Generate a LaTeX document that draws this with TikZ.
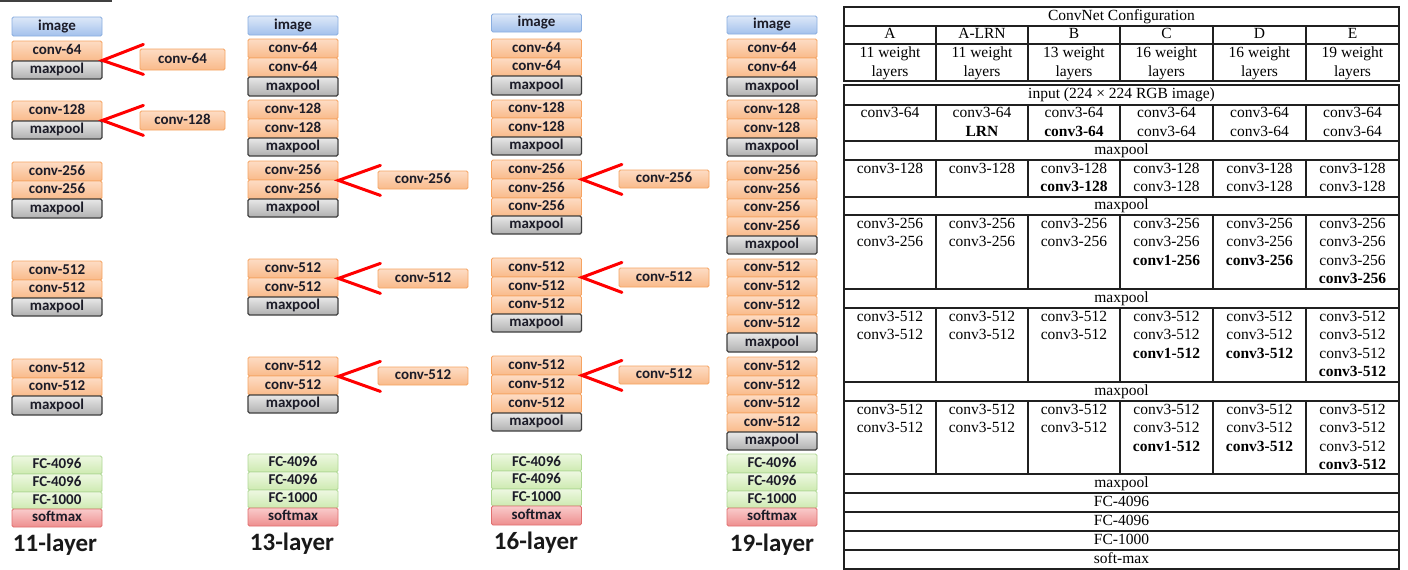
\documentclass[tikz,border=0pt]{standalone}
\usepackage{fontspec}
\newfontfamily\cfont{Carlito}
\newfontfamily\tfont{Liberation Serif}
\definecolor{imgT}{HTML}{DDE8F8}
\definecolor{imgBot}{HTML}{A3C1EC}
\definecolor{imgB}{HTML}{8AAEE0}
\definecolor{convT}{HTML}{FDDCC4}
\definecolor{convBot}{HTML}{F9BA8A}
\definecolor{convB}{HTML}{F6A462}
\definecolor{poolT}{HTML}{E8E8E8}
\definecolor{poolBot}{HTML}{B0B0B0}
\definecolor{poolB}{HTML}{404040}
\definecolor{fcT}{HTML}{EEF8E2}
\definecolor{fcBot}{HTML}{CDEAB0}
\definecolor{fcB}{HTML}{B0D896}
\definecolor{smT}{HTML}{F9CBCB}
\definecolor{smBot}{HTML}{EE8E8E}
\definecolor{smB}{HTML}{E06F6F}
\definecolor{txt}{HTML}{1C1C28}
\definecolor{tcol}{HTML}{202020}
\tikzset{
  lay/.style={draw, rounded corners=1.5pt, minimum width=90pt, inner sep=0pt,
    font=\cfont\bfseries\fontsize{15}{16}\selectfont, text=txt,
    text height=10pt, text depth=3pt},
  imgbox/.style={lay, draw=imgB, line width=0.8pt, top color=imgT, bottom color=imgBot},
  convbox/.style={lay, draw=convB, line width=0.8pt, top color=convT, bottom color=convBot},
  poolbox/.style={lay, draw=poolB, line width=1.3pt, top color=poolT, bottom color=poolBot},
  fcbox/.style={lay, draw=fcB, line width=0.8pt, top color=fcT, bottom color=fcBot},
  smbox/.style={lay, draw=smB, line width=0.8pt, top color=smT, bottom color=smBot},
  redv/.style={draw=red, line width=3pt, line cap=round, line join=miter},
  lbl/.style={font=\cfont\bfseries\fontsize{25}{28}\selectfont, text=black!90, inner sep=0pt},
  tl/.style={draw=tcol, line width=1.2pt},
  tbox/.style={draw=tcol, line width=1.6pt},
  cellt/.style={anchor=north, align=center, inner sep=0pt,
    font=\tfont\fontsize{15.5}{18.3}\selectfont},
  spant/.style={anchor=center, inner sep=0pt, text height=11pt, text depth=3.5pt,
    font=\tfont\fontsize{15.5}{18.3}\selectfont}
}
\newcommand\lay[6]{\node[#2, minimum height={#5-#4}] (#1) at (#3,{(#4+#5)/2}) {#6};}
\newcommand\trow[8]{%
  \node[cellt] (#1A) at (890,#2) {#3};
  \node[cellt] (#1L) at (982,#2) {#4};
  \node[cellt] (#1B) at (1074,#2) {#5};
  \node[cellt] (#1C) at (1166.5,#2) {#6};
  \node[cellt] (#1D) at (1259.5,#2) {#7};
  \node[cellt] (#1E) at (1352.5,#2) {#8};}
\newcommand\tspan[3]{\node[spant] (#1) at (1121.5,#2) {#3};}
\begin{document}
\begin{tikzpicture}[x=1pt,y=-1pt]
\useasboundingbox (0,0) rectangle (1408,570);
\fill[white] (0,0) rectangle (1408,570);
\draw[line width=1.5pt, black!75] (0,1) -- (112,1);

% ---------- 11-layer ----------
\lay{c1img}{imgbox}{57}{17}{36}{image}
\lay{c1a1}{convbox}{57}{41}{61}{conv-64}
\lay{c1p1}{poolbox}{57}{61}{79}{maxpool}
\lay{c1b1}{convbox}{57}{101}{121}{conv-128}
\lay{c1p2}{poolbox}{57}{121}{139}{maxpool}
\lay{c1c1}{convbox}{57}{162}{181}{conv-256}
\lay{c1c2}{convbox}{57}{181}{199}{conv-256}
\lay{c1p3}{poolbox}{57}{199}{218}{maxpool}
\lay{c1d1}{convbox}{57}{261}{280}{conv-512}
\lay{c1d2}{convbox}{57}{280}{298}{conv-512}
\lay{c1p4}{poolbox}{57}{298}{316}{maxpool}
\lay{c1e1}{convbox}{57}{359}{378}{conv-512}
\lay{c1e2}{convbox}{57}{378}{396}{conv-512}
\lay{c1p5}{poolbox}{57}{396}{415}{maxpool}
\lay{c1f1}{fcbox}{57}{456}{474}{FC-4096}
\lay{c1f2}{fcbox}{57}{474}{492}{FC-4096}
\lay{c1f3}{fcbox}{57}{492}{509}{FC-1000}
\lay{c1sm}{smbox}{57}{509}{527}{softmax}
\node[lbl] (l11) at (55,545) {11-layer};

\lay{x1a}{convbox, minimum width=85pt}{182.5}{49}{70}{conv-64}
\lay{x1b}{convbox, minimum width=85pt}{182.5}{111}{130}{conv-128}
\coordinate (v1a) at ([shift={(0,-1)}]c1a1.south east);
\coordinate (u1a) at ([shift={(41,-16)}]v1a);
\coordinate (d1a) at ([shift={(41,14)}]v1a);
\draw[redv] (u1a) -- (v1a) -- (d1a);
\coordinate (v1b) at ([shift={(0,-1)}]c1b1.south east);
\coordinate (u1b) at ([shift={(41,-15)}]v1b);
\coordinate (d1b) at ([shift={(41,15)}]v1b);
\draw[redv] (u1b) -- (v1b) -- (d1b);

% ---------- 13-layer ----------
\lay{c2img}{imgbox}{293}{16}{35}{image}
\lay{c2a1}{convbox}{293}{39}{58}{conv-64}
\lay{c2a2}{convbox}{293}{58}{77}{conv-64}
\lay{c2p1}{poolbox}{293}{77}{96}{maxpool}
\lay{c2b1}{convbox}{293}{100}{119}{conv-128}
\lay{c2b2}{convbox}{293}{119}{138}{conv-128}
\lay{c2p2}{poolbox}{293}{138}{156}{maxpool}
\lay{c2c1}{convbox}{293}{161}{180}{conv-256}
\lay{c2c2}{convbox}{293}{180}{199}{conv-256}
\lay{c2p3}{poolbox}{293}{199}{217}{maxpool}
\lay{c2d1}{convbox}{293}{259}{278}{conv-512}
\lay{c2d2}{convbox}{293}{278}{297}{conv-512}
\lay{c2p4}{poolbox}{293}{297}{315}{maxpool}
\lay{c2e1}{convbox}{293}{357}{376}{conv-512}
\lay{c2e2}{convbox}{293}{376}{395}{conv-512}
\lay{c2p5}{poolbox}{293}{395}{413}{maxpool}
\lay{c2f1}{fcbox}{293}{454}{472}{FC-4096}
\lay{c2f2}{fcbox}{293}{472}{490}{FC-4096}
\lay{c2f3}{fcbox}{293}{490}{508}{FC-1000}
\lay{c2sm}{smbox}{293}{508}{526}{softmax}
\node[lbl] (l13) at (292,544) {13-layer};

\lay{x2c}{convbox}{423}{171}{189}{conv-256}
\lay{x2d}{convbox}{423}{269}{288}{conv-512}
\lay{x2e}{convbox}{423}{367}{385}{conv-512}
\foreach \s in {c,d,e}{
  \coordinate (v2\s) at (c2\s1.south east);
  \coordinate (u2\s) at ([shift={(42,-15)}]v2\s);
  \coordinate (d2\s) at ([shift={(42,15)}]v2\s);
  \draw[redv] (u2\s) -- (v2\s) -- (d2\s);
}

% ---------- 16-layer ----------
\lay{c3img}{imgbox}{536.5}{14}{32}{image}
\lay{c3a1}{convbox}{536.5}{39}{58}{conv-64}
\lay{c3a2}{convbox}{536.5}{58}{76}{conv-64}
\lay{c3p1}{poolbox}{536.5}{76}{95}{maxpool}
\lay{c3b1}{convbox}{536.5}{100}{118}{conv-128}
\lay{c3b2}{convbox}{536.5}{118}{137}{conv-128}
\lay{c3p2}{poolbox}{536.5}{137}{155}{maxpool}
\lay{c3c1}{convbox}{536.5}{160}{179}{conv-256}
\lay{c3c2}{convbox}{536.5}{179}{198}{conv-256}
\lay{c3c3}{convbox}{536.5}{198}{216}{conv-256}
\lay{c3p3}{poolbox}{536.5}{216}{234}{maxpool}
\lay{c3d1}{convbox}{536.5}{258}{277}{conv-512}
\lay{c3d2}{convbox}{536.5}{277}{296}{conv-512}
\lay{c3d3}{convbox}{536.5}{296}{314}{conv-512}
\lay{c3p4}{poolbox}{536.5}{314}{332}{maxpool}
\lay{c3e1}{convbox}{536.5}{356}{375}{conv-512}
\lay{c3e2}{convbox}{536.5}{375}{394}{conv-512}
\lay{c3e3}{convbox}{536.5}{394}{413}{conv-512}
\lay{c3p5}{poolbox}{536.5}{413}{431}{maxpool}
\lay{c3f1}{fcbox}{536.5}{454}{471}{FC-4096}
\lay{c3f2}{fcbox}{536.5}{471}{489}{FC-4096}
\lay{c3f3}{fcbox}{536.5}{489}{506}{FC-1000}
\lay{c3sm}{smbox}{536.5}{506}{525}{softmax}
\node[lbl] (l16) at (536,543) {16-layer};

\lay{x3c}{convbox}{664}{170}{188}{conv-256}
\lay{x3d}{convbox}{664}{268}{287}{conv-512}
\lay{x3e}{convbox}{664}{366}{384}{conv-512}
\foreach \s in {c,d,e}{
  \coordinate (v3\s) at (c3\s1.south east);
  \coordinate (u3\s) at ([shift={(40,-15)}]v3\s);
  \coordinate (d3\s) at ([shift={(40,15)}]v3\s);
  \draw[redv] (u3\s) -- (v3\s) -- (d3\s);
}

% ---------- 19-layer ----------
\lay{c4img}{imgbox}{772}{16}{34}{image}
\lay{c4a1}{convbox}{772}{39}{58}{conv-64}
\lay{c4a2}{convbox}{772}{58}{77}{conv-64}
\lay{c4p1}{poolbox}{772}{77}{96}{maxpool}
\lay{c4b1}{convbox}{772}{100}{119}{conv-128}
\lay{c4b2}{convbox}{772}{119}{138}{conv-128}
\lay{c4p2}{poolbox}{772}{138}{156}{maxpool}
\lay{c4c1}{convbox}{772}{161}{180}{conv-256}
\lay{c4c2}{convbox}{772}{180}{199}{conv-256}
\lay{c4c3}{convbox}{772}{199}{217}{conv-256}
\lay{c4c4}{convbox}{772}{217}{236}{conv-256}
\lay{c4p3}{poolbox}{772}{236}{254}{maxpool}
\lay{c4d1}{convbox}{772}{259}{277}{conv-512}
\lay{c4d2}{convbox}{772}{277}{296}{conv-512}
\lay{c4d3}{convbox}{772}{296}{315}{conv-512}
\lay{c4d4}{convbox}{772}{315}{333}{conv-512}
\lay{c4p4}{poolbox}{772}{333}{352}{maxpool}
\lay{c4e1}{convbox}{772}{357}{376}{conv-512}
\lay{c4e2}{convbox}{772}{376}{395}{conv-512}
\lay{c4e3}{convbox}{772}{395}{413}{conv-512}
\lay{c4e4}{convbox}{772}{413}{432}{conv-512}
\lay{c4p5}{poolbox}{772}{432}{450}{maxpool}
\lay{c4f1}{fcbox}{772}{454}{473}{FC-4096}
\lay{c4f2}{fcbox}{772}{473}{491}{FC-4096}
\lay{c4f3}{fcbox}{772}{491}{508}{FC-1000}
\lay{c4sm}{smbox}{772}{508}{526}{softmax}
\node[lbl] (l19) at (772,545) {19-layer};

% ---------- table ----------
\draw[tbox] (844,7) rectangle (1399,81);
\draw[tbox] (844,85) rectangle (1399,569);
\foreach \y in {26,44} \draw[tl] (844,\y) -- (1399,\y);
\foreach \y in {105,141,160,197,215,289,308,382,401,474,493,512,531,550}
  \draw[tl] (844,\y) -- (1399,\y);
\foreach \x in {936,1028,1120,1213,1306}{
  \foreach \a/\b in {26/81,105/141,160/197,215/289,308/382,401/474}
    \draw[tl] (\x,\a) -- (\x,\b);
}
\tspan{thead}{16.5}{ConvNet Configuration}
\node[spant] (hA) at (890,35) {A};
\node[spant] (hL) at (982,35) {A-LRN};
\node[spant] (hB) at (1074,35) {B};
\node[spant] (hC) at (1166.5,35) {C};
\node[spant] (hD) at (1259.5,35) {D};
\node[spant] (hE) at (1352.5,35) {E};
\trow{w}{47}{11 weight\\layers}{11 weight\\layers}{13 weight\\layers}{16 weight\\layers}{16 weight\\layers}{19 weight\\layers}
\tspan{tin}{95}{input (224 × 224 RGB image)}
\trow{r1}{107.5}{conv3-64}{conv3-64\\\textbf{LRN}}{conv3-64\\\textbf{conv3-64}}{conv3-64\\conv3-64}{conv3-64\\conv3-64}{conv3-64\\conv3-64}
\tspan{tmp1}{150.5}{maxpool}
\trow{r2}{162.5}{conv3-128}{conv3-128}{conv3-128\\\textbf{conv3-128}}{conv3-128\\conv3-128}{conv3-128\\conv3-128}{conv3-128\\conv3-128}
\tspan{tmp2}{206}{maxpool}
\trow{r3}{218}{conv3-256\\conv3-256}{conv3-256\\conv3-256}{conv3-256\\conv3-256}{conv3-256\\conv3-256\\\textbf{conv1-256}}{conv3-256\\conv3-256\\\textbf{conv3-256}}{conv3-256\\conv3-256\\conv3-256\\\textbf{conv3-256}}
\tspan{tmp3}{298.5}{maxpool}
\trow{r4}{311}{conv3-512\\conv3-512}{conv3-512\\conv3-512}{conv3-512\\conv3-512}{conv3-512\\conv3-512\\\textbf{conv1-512}}{conv3-512\\conv3-512\\\textbf{conv3-512}}{conv3-512\\conv3-512\\conv3-512\\\textbf{conv3-512}}
\tspan{tmp4}{391.5}{maxpool}
\trow{r5}{404}{conv3-512\\conv3-512}{conv3-512\\conv3-512}{conv3-512\\conv3-512}{conv3-512\\conv3-512\\\textbf{conv1-512}}{conv3-512\\conv3-512\\\textbf{conv3-512}}{conv3-512\\conv3-512\\conv3-512\\\textbf{conv3-512}}
\tspan{tmp5}{483.5}{maxpool}
\tspan{tfc1}{502.5}{FC-4096}
\tspan{tfc2}{521.5}{FC-4096}
\tspan{tfc3}{540.5}{FC-1000}
\tspan{tsm}{559.5}{soft-max}
\end{tikzpicture}
\end{document}
